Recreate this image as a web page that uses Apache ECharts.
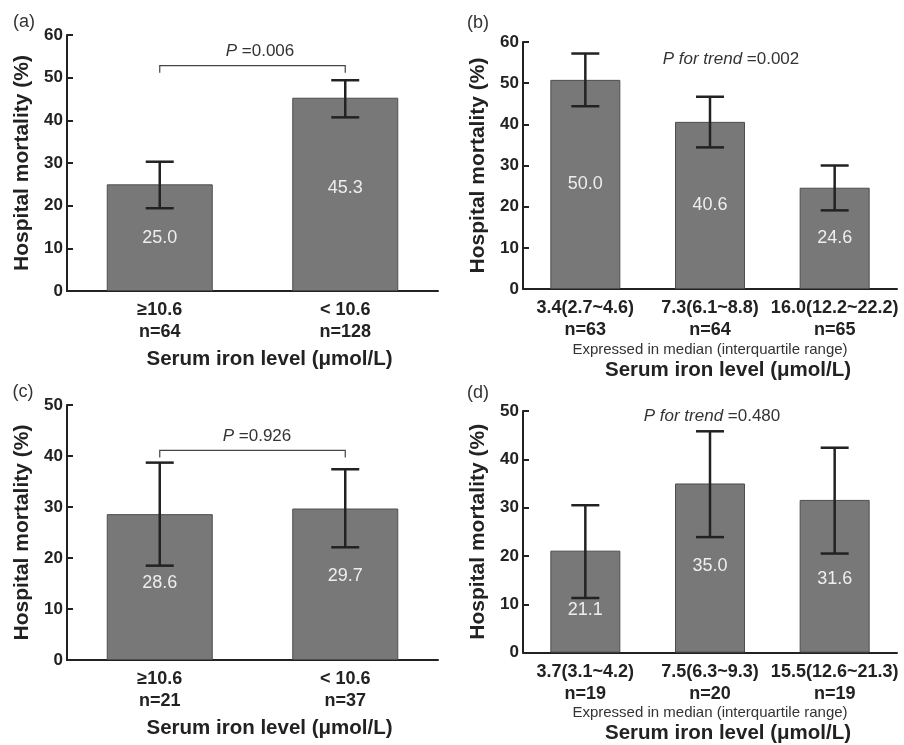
<!DOCTYPE html>
<html>
<head>
<meta charset="utf-8">
<script src="https://cdn.jsdelivr.net/npm/echarts@6/dist/echarts.min.js"></script>
<style>html,body{margin:0;padding:0;background:#fff}#chart{width:904px;height:745px}</style>
</head>
<body>
<div id="chart"></div>
<script>
// ---- data ----
const catsA = ['≥10.6\nn=64', '< 10.6\nn=128'];
const valsA = [25.0, 45.3];
const labelsA = ['25.0', '45.3'];
const errA = [[0, 19.4, 30.3], [1, 40.7, 49.4]];
const bracketA = [[0, 1, 52.8]];

const catsB = ['3.4(2.7~4.6)\nn=63', '7.3(6.1~8.8)\nn=64', '16.0(12.2~22.2)\nn=65'];
const valsB = [50.8, 40.6, 24.6];
const labelsB = ['50.0', '40.6', '24.6'];
const errB = [[0, 44.4, 57.2], [1, 34.4, 46.7], [2, 19.1, 30.0]];

const catsC = ['≥10.6\nn=21', '< 10.6\nn=37'];
const valsC = [28.6, 29.7];
const labelsC = ['28.6', '29.7'];
const errC = [[0, 18.5, 38.7], [1, 22.1, 37.4]];
const bracketC = [[0, 1, 41.1]];

const catsD = ['3.7(3.1~4.2)\nn=19', '7.5(6.3~9.3)\nn=20', '15.5(12.6~21.3)\nn=19'];
const valsD = [21.1, 35.0, 31.6];
const labelsD = ['21.1', '35.0', '31.6'];
const errD = [[0, 11.3, 30.5], [1, 23.9, 45.8], [2, 20.5, 42.4]];

const yMaxA = 60, yMaxB = 60, yMaxC = 50, yMaxD = 50;
const yInterval = 10;
const pTextA = '{i|P} =0.006';
const pTextB = '{i|P for trend} =0.002';
const pTextC = '{i|P} =0.926';
const pTextD = '{i|P for trend} =0.480';

// ---- styling ----
const FF = '"Liberation Sans", Arial, Helvetica, sans-serif';
const INK = '#222';

const grids = [
  { left: 67, top: 35, width: 371, height: 256 },
  { left: 523, top: 42, width: 374, height: 247 },
  { left: 67, top: 405, width: 371, height: 255 },
  { left: 523, top: 411, width: 374, height: 246 }
];

// vertical pixel nudges of the in-bar value labels (layout only)
const panels = [
  { cats: catsA, vals: valsA, labels: labelsA, err: errA, bracket: bracketA, max: yMaxA, barW: 106, median: false, nudge: [0, -6] },
  { cats: catsB, vals: valsB, labels: labelsB, err: errB, bracket: null, max: yMaxB, barW: 70, median: true, nudge: [0, 0, 0] },
  { cats: catsC, vals: valsC, labels: labelsC, err: errC, bracket: bracketC, max: yMaxC, barW: 106, median: false, nudge: [-4, -8] },
  { cats: catsD, vals: valsD, labels: labelsD, err: errD, bracket: null, max: yMaxD, barW: 70, median: true, nudge: [8, -2, 3] }
];

const xAxes = [], yAxes = [], series = [];
panels.forEach((p, i) => {
  xAxes.push({
    type: 'category', gridIndex: i, data: p.cats,
    axisLine: { lineStyle: { color: INK, width: 2 } },
    axisTick: { show: false },
    axisLabel: { interval: 0, color: INK, fontFamily: FF, fontWeight: 'bold', fontSize: 18, lineHeight: 22, margin: 8 },
    name: p.median ? '{s|Expressed in median (interquartile range)}\n{b|Serum iron level (μmol/L)}' : 'Serum iron level (μmol/L)',
    nameLocation: 'middle',
    nameGap: p.median ? 50 : 57,
    nameTextStyle: p.median ? {
      fontFamily: FF, color: INK,
      rich: {
        s: { fontFamily: FF, fontSize: 15, color: '#333', lineHeight: 19 },
        b: { fontFamily: FF, fontSize: 20.5, fontWeight: 'bold', color: INK, lineHeight: 22, padding: [0, 0, 0, 36] }
      }
    } : { fontFamily: FF, fontSize: 20.5, fontWeight: 'bold', color: INK, lineHeight: 22, padding: [0, 0, 0, 34] }
  });
  yAxes.push({
    type: 'value', gridIndex: i, min: 0, max: p.max, interval: yInterval,
    axisLine: { show: true, lineStyle: { color: INK, width: 2 } },
    axisTick: { show: true, inside: true, length: 6, lineStyle: { color: INK, width: 2 } },
    splitLine: { show: false },
    axisLabel: { color: INK, fontFamily: FF, fontWeight: 'bold', fontSize: 17, margin: 4 },
    name: 'Hospital mortality (%)',
    nameLocation: 'middle', nameGap: 34,
    nameTextStyle: { fontFamily: FF, fontSize: 21, fontWeight: 'bold', color: INK }
  });
  series.push({
    type: 'bar', xAxisIndex: i, yAxisIndex: i,
    data: p.vals.map((v, k) => ({ value: v, label: { offset: [0, p.nudge[k]] } })),
    barWidth: p.barW,
    itemStyle: { color: '#787878', borderColor: '#4d4d4d', borderWidth: 1 },
    label: {
      show: true, position: 'inside', color: '#eeeeee', fontFamily: FF, fontSize: 18,
      formatter: (d) => p.labels[d.dataIndex]
    },
    silent: true, z: 2
  });
  series.push({
    type: 'custom', xAxisIndex: i, yAxisIndex: i, data: p.err, z: 5, silent: true,
    encode: { x: 0, y: [1, 2] },
    renderItem: (params, api) => {
      const c = api.value(0);
      const lo = api.coord([c, api.value(1)]);
      const hi = api.coord([c, api.value(2)]);
      const hw = 14;
      const st = { stroke: INK, lineWidth: 2.5 };
      return {
        type: 'group', children: [
          { type: 'line', shape: { x1: lo[0], y1: lo[1], x2: hi[0], y2: hi[1] }, style: st },
          { type: 'line', shape: { x1: lo[0] - hw, y1: lo[1], x2: lo[0] + hw, y2: lo[1] }, style: st },
          { type: 'line', shape: { x1: hi[0] - hw, y1: hi[1], x2: hi[0] + hw, y2: hi[1] }, style: st }
        ]
      };
    }
  });
  if (p.bracket) {
    series.push({
      type: 'custom', xAxisIndex: i, yAxisIndex: i, data: p.bracket, z: 5, silent: true,
      encode: { x: [0, 1], y: 2 },
      renderItem: (params, api) => {
        const a = api.coord([api.value(0), api.value(2)]);
        const b = api.coord([api.value(1), api.value(2)]);
        return {
          type: 'polyline',
          shape: { points: [[a[0], a[1] + 7], [a[0], a[1]], [b[0], b[1]], [b[0], b[1] + 7]] },
          style: { stroke: '#444', lineWidth: 1.2, fill: null }
        };
      }
    });
  }
});

const richP = { i: { fontStyle: 'italic', fontFamily: FF, fontSize: 17, fill: '#333' } };
function txt(x, y, text, size, rich) {
  return {
    type: 'text', x: x, y: y, silent: true,
    style: { text: text, fontFamily: FF, fontSize: size, fill: '#333', textAlign: 'center', textVerticalAlign: 'middle', rich: rich }
  };
}

const graphics = [
  txt(24, 22, '(a)', 18),
  txt(478, 23, '(b)', 18),
  txt(23, 392, '(c)', 18),
  txt(478, 393, '(d)', 18),
  txt(260, 51, pTextA, 17, richP),
  txt(731, 59, pTextB, 17, richP),
  txt(257, 436, pTextC, 17, richP),
  txt(712, 416, pTextD, 17, richP)
];

const chart = echarts.init(document.getElementById('chart'));
chart.setOption({
  animation: false,
  backgroundColor: '#fff',
  grid: grids,
  xAxis: xAxes,
  yAxis: yAxes,
  series: series,
  graphic: graphics
});
</script>
</body>
</html>
